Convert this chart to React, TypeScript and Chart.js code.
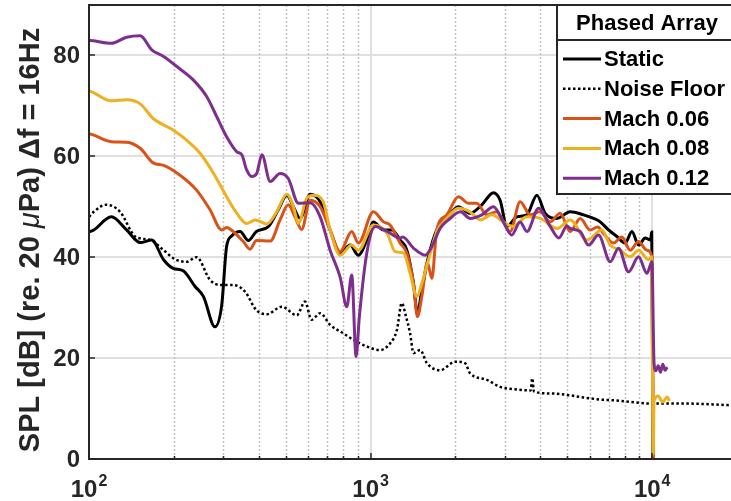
import React, { useEffect, useRef } from 'react';
import { Chart, registerables } from 'chart.js';

Chart.register(...registerables);

// ---------------- data ----------------
const staticFreq = [
  100, 104, 120, 136, 152, 167, 184, 199, 216, 238,
  255, 280, 296, 308, 321, 344, 368, 393, 434, 470,
  504, 532, 562, 610, 662, 718, 779, 846, 905, 969,
  1023, 1111, 1189, 1273, 1345, 1420, 1466, 1520, 1605, 1718,
  1864, 2050, 2255, 2483, 2729, 2883, 3046, 3306, 3589, 3894,
  4168, 4586, 5113, 5702, 6188, 6537, 6996, 7492, 8017, 8472,
  8940, 9440, 9860, 9960, 10060,
];
const staticSpl = [
  45.0, 45.4, 48.0, 45.4, 42.9, 43.4, 39.5, 37.8, 37.3, 34.2,
  32.2, 26.2, 30.5, 42.1, 44.2, 45.1, 43.3, 45.1, 46.1, 49.4,
  52.3, 50.0, 47.7, 52.5, 51.0, 45.4, 40.8, 42.4, 40.4, 43.4,
  47.0, 45.4, 45.4, 43.4, 41.4, 34.8, 28.9, 33.5, 40.1, 45.4,
  47.7, 50.0, 48.7, 50.4, 52.8, 51.3, 46.1, 48.0, 48.4, 52.3,
  48.7, 47.7, 49.0, 48.4, 47.7, 47.0, 45.4, 44.1, 42.8, 45.1,
  42.4, 43.8, 43.4, 45.0, 0,
];

const noiseFreq = [
  100, 104, 115, 129, 146, 165, 184, 202, 222, 241,
  269, 292, 325, 358, 393, 428, 484, 547, 585, 617,
  662, 718, 801, 870, 969, 1080, 1172, 1240, 1290, 1336,
  1380, 1420, 1500, 1585, 1765, 2000, 2165, 2255, 2588, 2883,
  3300, 3700, 3750, 3800, 4341, 4980, 5700, 6500, 7490, 9870,
  12900, 20000,
];
const noiseSpl = [
  48.0, 49.0, 50.4, 49.0, 44.1, 43.4, 41.4, 39.6, 39.1, 40.0,
  35.5, 34.5, 34.5, 33.2, 29.5, 28.7, 30.2, 28.5, 31.2, 27.6,
  28.9, 26.6, 24.9, 23.6, 22.3, 21.6, 22.9, 25.6, 30.9, 28.2,
  25.0, 21.0, 21.6, 19.0, 17.6, 19.3, 19.0, 17.0, 15.7, 14.3,
  13.8, 13.6, 16.0, 13.4, 13.0, 12.7, 12.2, 11.8, 11.6, 11.0,
  11.0, 10.6,
];

const mach06Freq = [
  100, 104, 120, 136, 152, 169, 184, 210, 241, 269,
  296, 308, 325, 353, 373, 393, 440, 477, 510, 539,
  569, 610, 662, 718, 779, 857, 905, 1023, 1111, 1172,
  1273, 1345, 1420, 1466, 1520, 1590, 1650, 1718, 1864, 2050,
  2226, 2380, 2588, 2800, 3131, 3396, 3686, 4000, 4341, 4710,
  5115, 5550, 6020, 6400, 6714, 7285, 7800, 8353, 8940, 9570,
  9975, 10100,
];
const mach06Spl = [
  64.5, 64.2, 62.9, 62.8, 61.6, 58.7, 58.2, 56.3, 53.3, 49.4,
  45.4, 45.9, 45.1, 43.1, 41.6, 43.3, 43.2, 47.4, 50.4, 48.0,
  45.5, 51.3, 50.0, 45.4, 41.1, 45.1, 42.8, 49.0, 47.0, 46.4,
  42.8, 40.8, 34.8, 28.2, 32.2, 39.0, 35.8, 45.4, 48.4, 52.0,
  50.7, 50.7, 48.4, 49.0, 45.1, 51.0, 48.4, 49.0, 47.0, 48.7,
  45.1, 47.7, 45.4, 46.0, 44.7, 42.8, 44.0, 41.4, 43.1, 41.4,
  40.1, 0,
];

const mach08Freq = [
  100, 104, 120, 136, 152, 169, 199, 222, 248, 277,
  308, 335, 363, 389, 428, 464, 504, 532, 554, 593,
  626, 679, 718, 779, 857, 905, 1023, 1145, 1222, 1310,
  1381, 1460, 1520, 1605, 1718, 1864, 2050, 2255, 2449, 2695,
  2963, 3200, 3589, 4000, 4600, 5115, 5861, 6625, 7094, 7696,
  8353, 8940, 9700, 9950, 10080, 10150, 10500, 10900, 11300, 11500,
];
const mach08Spl = [
  73.0, 72.6, 71.0, 71.2, 70.4, 67.5, 65.2, 63.2, 60.6, 56.6,
  52.0, 48.7, 46.7, 47.4, 46.6, 49.0, 52.5, 50.0, 46.7, 51.7,
  52.3, 51.0, 45.4, 40.4, 42.4, 41.4, 46.4, 44.7, 41.1, 40.8,
  36.8, 32.2, 34.8, 39.5, 45.1, 47.7, 49.7, 49.0, 47.4, 48.4,
  47.0, 46.1, 48.0, 47.7, 45.7, 47.4, 43.4, 45.4, 42.4, 41.4,
  40.1, 41.4, 39.5, 40.1, 1.0, 11.5, 12.5, 11.3, 12.3, 11.5,
];

const mach12Freq = [
  100, 104, 120, 136, 152, 167, 184, 205, 235, 262,
  284, 308, 335, 349, 363, 378, 394, 411, 440, 477,
  510, 554, 610, 662, 718, 779, 823, 857, 888, 912,
  969, 1040, 1145, 1273, 1300, 1420, 1560, 1650, 1765, 1890,
  2085, 2255, 2483, 2729, 2960, 3170, 3396, 3589, 3950, 4341,
  4660, 4980, 5113, 5549, 5939, 6445, 7094, 7592, 8239, 8940,
  9577, 9977, 10150, 10300, 10500, 10700, 10900, 11100, 11300,
];
const mach12Spl = [
  83.0, 82.9, 82.4, 83.6, 83.9, 81.1, 79.8, 77.8, 75.1, 71.8,
  67.9, 63.9, 60.9, 60.3, 57.3, 56.0, 56.6, 60.3, 55.0, 56.6,
  55.6, 50.7, 50.8, 48.0, 41.4, 36.1, 30.2, 36.5, 20.3, 28.2,
  40.8, 46.1, 45.1, 43.8, 44.0, 41.8, 40.4, 42.1, 45.7, 47.4,
  49.0, 47.7, 48.4, 50.0, 47.0, 44.4, 47.0, 45.1, 49.7, 46.1,
  43.8, 46.2, 45.7, 45.1, 42.4, 44.4, 39.1, 41.8, 37.1, 40.1,
  36.8, 39.1, 19.0, 17.5, 18.5, 17.2, 18.8, 17.6, 18.2,
];

const seriesLabels = ['Static', 'Noise Floor', 'Mach 0.06', 'Mach 0.08', 'Mach 0.12'];
const seriesColors = ['#000000', '#000000', '#D95319', '#EDB120', '#7E2F8E'];
const legendTitle = 'Phased Array';
const yTitleParts = ['SPL [dB] (re. 20 ', '\u03BC', 'Pa) \u0394f = 16Hz'];

const xMajorTicks = [100, 1000, 10000];
const xMajorExp = ['2', '3', '4'];
const xMinorTicks = [200, 300, 400, 500, 600, 700, 800, 900, 2000, 3000, 4000, 5000, 6000, 7000, 8000, 9000];
const yTicks = [0, 20, 40, 60, 80];

// ---------------- styling ----------------
const FONT = '"Liberation Sans", Arial, Helvetica, sans-serif';
const AXIS_COLOR = '#262626';
const GRID_COLOR = '#e0e0e0';
const MINOR_COLOR = '#c4c4c4';
const CANVAS_W = 740;
const CANVAS_H = 501;

const pts = (f: number[], s: number[]) => f.map((v, i) => ({ x: v, y: s[i] }));

const decorPlugin = {
  id: 'decor',
  beforeDatasetsDraw(chart: any) {
    const { ctx, chartArea: a, scales } = chart;
    const x = scales.x;
    const y = scales.y;
    ctx.save();
    // horizontal grid
    ctx.strokeStyle = GRID_COLOR;
    ctx.lineWidth = 2;
    for (const v of yTicks) {
      if (v === 0) continue;
      const py = Math.round(y.getPixelForValue(v));
      ctx.beginPath();
      ctx.moveTo(a.left, py);
      ctx.lineTo(a.right, py);
      ctx.stroke();
    }
    // minor vertical dotted
    ctx.strokeStyle = MINOR_COLOR;
    ctx.lineWidth = 1.5;
    ctx.setLineDash([2, 2]);
    for (const f of xMinorTicks) {
      const px = Math.round(x.getPixelForValue(f)) + 0.5;
      ctx.beginPath();
      ctx.moveTo(px, a.top);
      ctx.lineTo(px, a.bottom);
      ctx.stroke();
    }
    ctx.setLineDash([]);
    // major vertical
    ctx.strokeStyle = GRID_COLOR;
    ctx.lineWidth = 2;
    for (const f of xMajorTicks) {
      const px = Math.round(x.getPixelForValue(f));
      ctx.beginPath();
      ctx.moveTo(px, a.top);
      ctx.lineTo(px, a.bottom);
      ctx.stroke();
    }
    ctx.restore();
  },
  afterDatasetsDraw(chart: any) {
    const { ctx, chartArea: a, scales } = chart;
    const x = scales.x;
    const y = scales.y;
    ctx.save();
    // axes box
    ctx.strokeStyle = AXIS_COLOR;
    ctx.lineWidth = 2;
    ctx.beginPath();
    ctx.moveTo(a.right, a.top);
    ctx.lineTo(a.left, a.top);
    ctx.lineTo(a.left, a.bottom);
    ctx.lineTo(a.right, a.bottom);
    ctx.stroke();
    // tick marks
    ctx.lineWidth = 1.5;
    for (const v of yTicks) {
      const py = Math.round(y.getPixelForValue(v));
      ctx.beginPath();
      ctx.moveTo(a.left, py);
      ctx.lineTo(a.left + 6, py);
      ctx.stroke();
    }
    for (const f of xMajorTicks) {
      const px = Math.round(x.getPixelForValue(f));
      ctx.beginPath();
      ctx.moveTo(px, a.bottom);
      ctx.lineTo(px, a.bottom - 6);
      ctx.stroke();
    }
    for (const f of xMinorTicks) {
      const px = Math.round(x.getPixelForValue(f)) + 0.5;
      ctx.beginPath();
      ctx.moveTo(px, a.bottom);
      ctx.lineTo(px, a.bottom - 3);
      ctx.stroke();
    }
    // y tick labels
    ctx.fillStyle = AXIS_COLOR;
    ctx.font = `bold 24px ${FONT}`;
    ctx.textAlign = 'right';
    ctx.textBaseline = 'middle';
    for (const v of yTicks) {
      ctx.fillText(String(v), a.left - 9, y.getPixelForValue(v) + 1);
    }
    // x tick labels with superscripts
    ctx.textAlign = 'left';
    ctx.textBaseline = 'alphabetic';
    xMajorTicks.forEach((f, i) => {
      const px = x.getPixelForValue(f);
      ctx.font = `bold 24px ${FONT}`;
      const wBase = ctx.measureText('10').width;
      ctx.font = `bold 16px ${FONT}`;
      const wExp = ctx.measureText(xMajorExp[i]).width;
      const start = px - (wBase + 1 + wExp) / 2;
      ctx.font = `bold 24px ${FONT}`;
      ctx.fillText('10', start, 497);
      ctx.font = `bold 16px ${FONT}`;
      ctx.fillText(xMajorExp[i], start + wBase + 1, 486);
    });
    // y title
    const fonts = [`bold 29px ${FONT}`, `italic 29px ${FONT}`, `bold 29px ${FONT}`];
    const widths = yTitleParts.map((t, i) => {
      ctx.font = fonts[i];
      return ctx.measureText(t).width;
    });
    const total = widths.reduce((s, w) => s + w, 0);
    ctx.save();
    ctx.translate(31, 240);
    ctx.rotate(-Math.PI / 2);
    ctx.textBaseline = 'middle';
    ctx.textAlign = 'left';
    let cx = -total / 2;
    yTitleParts.forEach((t, i) => {
      ctx.font = fonts[i];
      ctx.fillText(t, cx, 0);
      cx += widths[i];
    });
    ctx.restore();

    // legend
    const lx = 557;
    const ly = a.top;
    const lw = 200;
    const lh = 189;
    ctx.fillStyle = '#ffffff';
    ctx.fillRect(lx, ly, lw, lh);
    ctx.strokeStyle = AXIS_COLOR;
    ctx.lineWidth = 2;
    ctx.strokeRect(lx, ly, lw, lh);
    ctx.beginPath();
    ctx.moveTo(lx, 40);
    ctx.lineTo(lx + lw, 40);
    ctx.stroke();
    ctx.fillStyle = '#000000';
    ctx.font = `bold 22px ${FONT}`;
    ctx.textAlign = 'center';
    ctx.textBaseline = 'middle';
    ctx.fillText(legendTitle, 647, 24);
    ctx.textAlign = 'left';
    seriesLabels.forEach((lab, i) => {
      const ry = 59 + i * 29.8;
      ctx.strokeStyle = seriesColors[i];
      ctx.lineWidth = i === 1 ? 2.5 : 3;
      ctx.setLineDash(i === 1 ? [2.5, 2.5] : []);
      ctx.beginPath();
      ctx.moveTo(563, ry);
      ctx.lineTo(601, ry);
      ctx.stroke();
      ctx.setLineDash([]);
      ctx.fillStyle = '#000000';
      ctx.fillText(lab, 604, ry + 1);
    });
    ctx.restore();
  },
};

export default function App() {
  const ref = useRef<HTMLCanvasElement>(null);
  useEffect(() => {
    if (!ref.current) return;
    const mk = (label: string, f: number[], s: number[], color: string, order: number, dash?: number[]) => ({
      label,
      data: pts(f, s),
      borderColor: color,
      backgroundColor: color,
      borderWidth: dash ? 2.5 : 3,
      borderDash: dash || [],
      pointRadius: 0,
      fill: false,
      cubicInterpolationMode: 'monotone' as const,
      order,
    });
    const chart = new Chart(ref.current, {
      type: 'line',
      data: {
        datasets: [
          mk(seriesLabels[0], staticFreq, staticSpl, seriesColors[0], 4),
          mk(seriesLabels[1], noiseFreq, noiseSpl, seriesColors[1], 3, [2.5, 2.5]),
          mk(seriesLabels[2], mach06Freq, mach06Spl, seriesColors[2], 2),
          mk(seriesLabels[3], mach08Freq, mach08Spl, seriesColors[3], 1),
          mk(seriesLabels[4], mach12Freq, mach12Spl, seriesColors[4], 0),
        ],
      },
      options: {
        responsive: false,
        animation: false,
        devicePixelRatio: 1,
        events: [],
        layout: { padding: { top: 5, right: 3, left: 0, bottom: 0 } },
        plugins: { legend: { display: false }, tooltip: { enabled: false } },
        scales: {
          x: {
            type: 'logarithmic',
            min: 100,
            max: 20000,
            grid: { display: false, drawTicks: false },
            border: { display: false },
            ticks: { display: false },
            afterFit: (s: any) => {
              s.height = 42;
            },
          },
          y: {
            type: 'linear',
            min: 0,
            max: 90,
            grid: { display: false, drawTicks: false },
            border: { display: false },
            ticks: { display: false },
            afterFit: (s: any) => {
              s.width = 89;
            },
          },
        },
      },
      plugins: [decorPlugin],
    });
    return () => chart.destroy();
  }, []);
  return (
    <div style={{ position: 'fixed', left: 0, top: 0, width: 731, height: 501, overflow: 'hidden', background: '#ffffff' }}>
      <canvas ref={ref} width={CANVAS_W} height={CANVAS_H} style={{ display: 'block', width: CANVAS_W, height: CANVAS_H }} />
    </div>
  );
}
